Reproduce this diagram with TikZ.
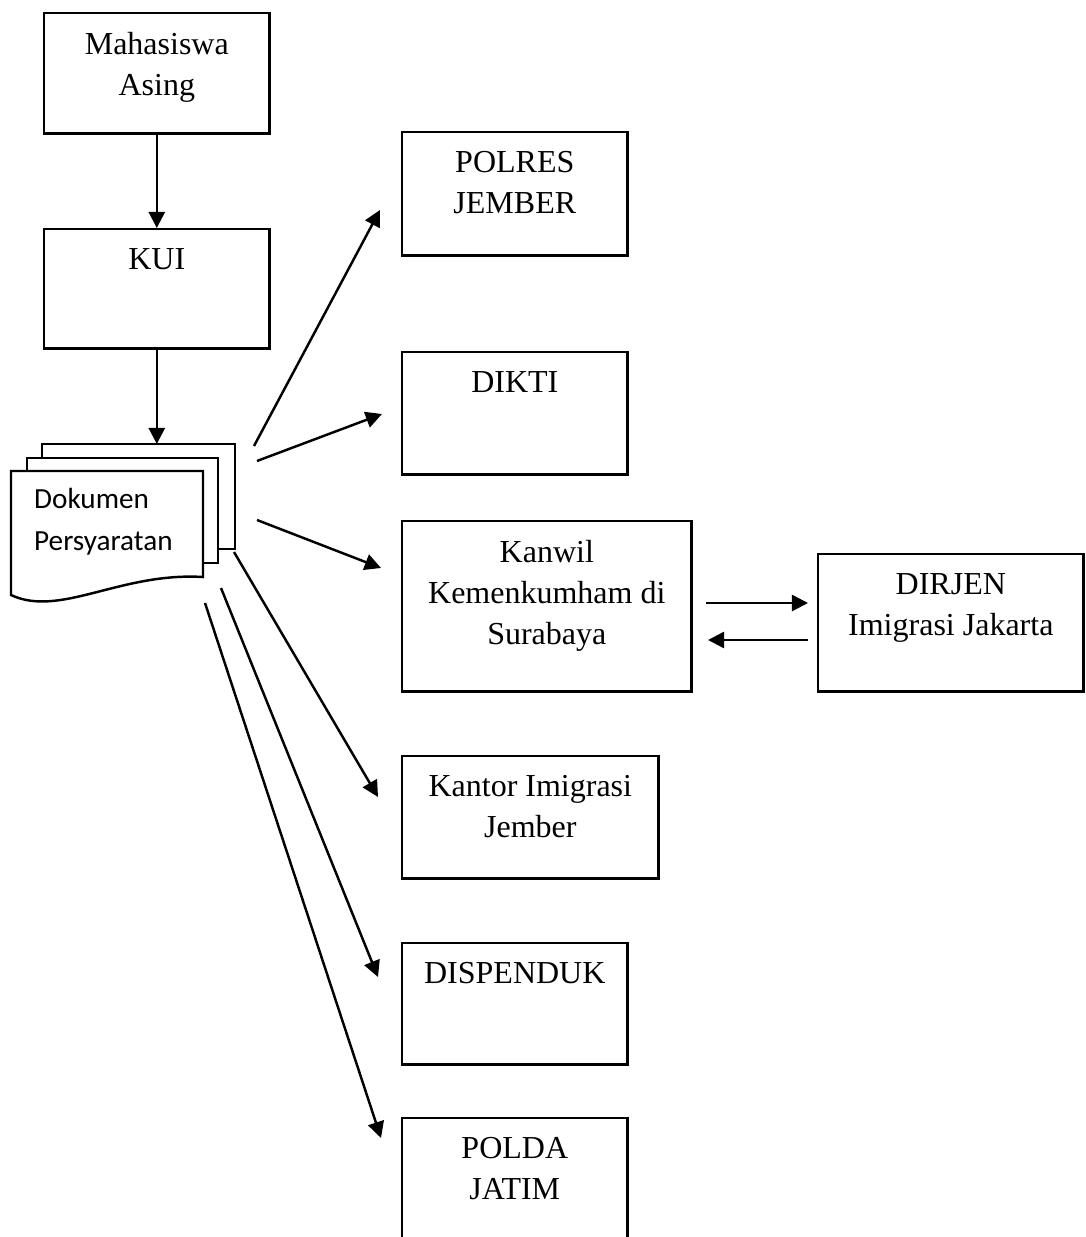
\documentclass[tikz,border=0pt]{standalone}
\usepackage{fontspec}
\setmainfont{Liberation Serif}
\newfontfamily\docfont{Carlito}
\usetikzlibrary{arrows.meta}

\begin{document}
\begin{tikzpicture}[
x=0.01cm, y=-0.01cm,
line width=0.7pt,
flowbox/.style={
    draw,
    rectangle,
    anchor=north west,
    inner sep=0pt},
boxtext/.style={
    anchor=north,
    align=center,
    inner sep=0pt,
    yshift=-0.19cm,
    font=\fontsize{9.1}{11.7}\selectfont},
flow/.style={-{Triangle[length=4.6pt,width=4.6pt]}}
]

\useasboundingbox (0,0) rectangle (1086,1237);

% left column
\node at (43,12) [flowbox, minimum width=2.25cm, minimum height=1.2cm] (mhs) {};
\node at (mhs.north) [boxtext] (mhstext) {Mahasiswa\\Asing};
\node at (43,228) [flowbox, minimum width=2.25cm, minimum height=1.19cm] (kui) {};
\node at (kui.north) [boxtext] (kuitext) {KUI};

% document stack
\draw[fill=white] (42,444) rectangle (235,549);
\draw[fill=white] (27,458) rectangle (218,563);
\draw[fill=white] (11,471) -- (203,471) -- (203,577)
    .. controls (120,572) and (60,618) .. (11,595) -- cycle;
\node at (33,487) [anchor=north west, align=left, inner sep=0pt,
    font=\docfont\fontsize{8.3}{12}\selectfont] (doc) {Dokumen\\Persyaratan};
\coordinate (doctop) at (0,444);
\coordinate (docin) at (kui.south |- doctop);

% right column
\node at (401,131) [flowbox, minimum width=2.25cm, minimum height=1.23cm] (polres) {};
\node at (polres.north) [boxtext] (polrestext) {POLRES\\JEMBER};
\node at (401,351) [flowbox, minimum width=2.25cm, minimum height=1.22cm] (dikti) {};
\node at (dikti.north) [boxtext] (diktitext) {DIKTI};
\node at (401,520) [flowbox, minimum width=2.89cm, minimum height=1.7cm] (kanwil) {};
\node at (kanwil.north) [boxtext] (kanwiltext) {Kanwil\\Kemenkumham di\\Surabaya};
\node at (817,553) [flowbox, minimum width=2.65cm, minimum height=1.37cm] (dirjen) {};
\node at (dirjen.north) [boxtext] (dirjentext) {DIRJEN\\Imigrasi Jakarta};
\node at (401,755) [flowbox, minimum width=2.56cm, minimum height=1.22cm] (kantor) {};
\node at (kantor.north) [boxtext] (kantortext) {Kantor Imigrasi\\Jember};
\node at (401,942) [flowbox, minimum width=2.25cm, minimum height=1.21cm] (dispenduk) {};
\node at (dispenduk.north) [boxtext] (dispenduktext) {DISPENDUK};
\node at (401,1117) [flowbox, minimum width=2.25cm, minimum height=1.5cm] (polda) {};
\node at (polda.north) [boxtext] (poldatext) {POLDA\\JATIM};

% free ends of the arrows
\coordinate (s1) at (254,446);
\coordinate (s2) at (257,461);
\coordinate (s3) at (257,520);
\coordinate (s4) at (234,552);
\coordinate (s5) at (221,588);
\coordinate (s6) at (205,603);
\coordinate (e1) at (380,210);
\coordinate (e2) at (382,414);
\coordinate (e3) at (381,568);
\coordinate (e4) at (378,797);
\coordinate (e5) at (378,977);
\coordinate (e6) at (381,1138);
\coordinate (go1) at (706,603);
\coordinate (go2) at (808,603);
\coordinate (back1) at (808,640);
\coordinate (back2) at (708,640);

\draw[flow] (mhs.south) -- (kui.north);
\draw[flow] (kui.south) -- (docin);
\draw[flow] (s1) -- (e1);
\draw[flow] (s2) -- (e2);
\draw[flow] (s3) -- (e3);
\draw[flow] (s4) -- (e4);
\draw[flow] (s5) -- (e5);
\draw[flow] (s6) -- (e6);
\draw[flow] (go1) -- (go2);
\draw[flow] (back1) -- (back2);

\end{tikzpicture}
\end{document}
